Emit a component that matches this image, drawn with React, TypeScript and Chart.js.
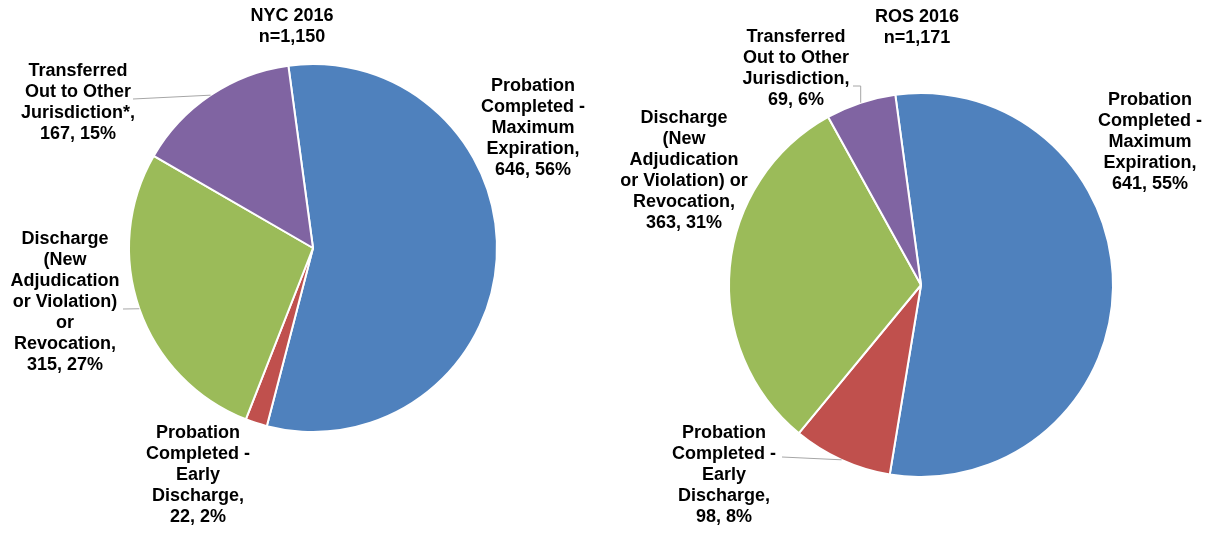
import React, { useEffect, useRef } from "react";
import { Chart, registerables } from "chart.js";

Chart.register(...registerables);

// ---------- DATA ----------
const nycCategories = [
  "Probation\nCompleted -\nMaximum\nExpiration",
  "Probation\nCompleted -\nEarly\nDischarge",
  "Discharge\n(New\nAdjudication\nor Violation)\nor\nRevocation",
  "Transferred\nOut to Other\nJurisdiction*",
];
const nycValues = [646, 22, 315, 167];

const rosCategories = [
  "Probation\nCompleted -\nMaximum\nExpiration",
  "Probation\nCompleted -\nEarly\nDischarge",
  "Discharge\n(New\nAdjudication\nor Violation) or\nRevocation",
  "Transferred\nOut to Other\nJurisdiction",
];
const rosValues = [641, 98, 363, 69];

const nycTitle = "NYC 2016";
const rosTitle = "ROS 2016";

const sliceColors = ["#4F81BD", "#C0504D", "#9BBB59", "#8064A2"];

// ---------- LAYOUT ----------
const W = 1214;
const H = 534;
const FONT = 'bold 18px "Liberation Sans", Arial, Helvetica, sans-serif';
const LINE_H = 21;

const nycLayout = {
  padding: { left: 128, top: 63, right: 716, bottom: 101 },
  title: { x: 292, y: 16 },
  labels: [
    { x: 533, y: 86 },
    { x: 198, y: 433 },
    { x: 65, y: 239, leader: { x: 123, y: 309, elbow: false } },
    { x: 78, y: 71, leader: { x: 133, y: 99, elbow: false } },
  ],
};

const rosLayout = {
  padding: { left: 728, top: 92, right: 100, bottom: 56 },
  title: { x: 917, y: 17 },
  labels: [
    { x: 1150, y: 100 },
    { x: 724, y: 433, leader: { x: 782, y: 457, elbow: false } },
    { x: 684, y: 118 },
    { x: 796, y: 37, leader: { x: 853, y: 86, elbow: true } },
  ],
};

const pieLabelPlugin = {
  id: "pieLabels",
  afterDraw(chart: any, _args: any, opts: any) {
    const ctx = chart.ctx as CanvasRenderingContext2D;
    const meta = chart.getDatasetMeta(0);
    const values: number[] = chart.data.datasets[0].data;
    const cats: string[] = chart.data.labels;
    const total = values.reduce((a, b) => a + b, 0);
    ctx.save();
    ctx.font = FONT;
    ctx.fillStyle = "#000000";
    ctx.textAlign = "center";
    ctx.textBaseline = "middle";
    const titleLines = [opts.titleText, "n=" + total.toLocaleString("en-US")];
    titleLines.forEach((t: string, i: number) =>
      ctx.fillText(t, opts.title.x, opts.title.y + i * LINE_H)
    );
    meta.data.forEach((arc: any, i: number) => {
      const lay = opts.labels[i];
      const lines = cats[i].split("\n");
      lines[lines.length - 1] += ",";
      const pct = Math.round((values[i] / total) * 100);
      lines.push(`${values[i]}, ${pct}%`);
      lines.forEach((t, j) => ctx.fillText(t, lay.x, lay.y + j * LINE_H));
      if (lay.leader) {
        const p = arc.getProps(["x", "y", "startAngle", "endAngle", "outerRadius"], true);
        const mid = (p.startAngle + p.endAngle) / 2;
        const ex = p.x + Math.cos(mid) * p.outerRadius;
        const ey = p.y + Math.sin(mid) * p.outerRadius;
        ctx.beginPath();
        ctx.strokeStyle = "#A6A6A6";
        ctx.lineWidth = 1;
        ctx.moveTo(lay.leader.x, lay.leader.y);
        if (lay.leader.elbow) ctx.lineTo(ex, lay.leader.y);
        ctx.lineTo(ex, ey);
        ctx.stroke();
      }
    });
    ctx.restore();
  },
};

function PieChart(props: { categories: string[]; values: number[]; layout: any; titleText: string }) {
  const ref = useRef<HTMLCanvasElement | null>(null);
  useEffect(() => {
    if (!ref.current) return;
    const chart = new Chart(ref.current, {
      type: "pie",
      data: {
        labels: props.categories,
        datasets: [
          {
            data: props.values,
            backgroundColor: sliceColors,
            borderColor: "#FFFFFF",
            borderWidth: 2,
            hoverOffset: 0,
          },
        ],
      },
      options: {
        responsive: false,
        animation: false,
        rotation: -7.7,
        layout: { padding: props.layout.padding },
        plugins: {
          legend: { display: false },
          tooltip: { enabled: false },
          title: { display: false },
          pieLabels: { ...props.layout, titleText: props.titleText },
        } as any,
        events: [],
      },
      plugins: [pieLabelPlugin],
    } as any);
    return () => chart.destroy();
  }, []);
  return (
    <canvas
      ref={ref}
      width={W}
      height={H}
      style={{ position: "absolute", left: 0, top: 0, width: W, height: H }}
    />
  );
}

export default function App() {
  return (
    <div style={{ position: "fixed", left: 0, top: 0, width: W, height: H, background: "#FFFFFF" }}>
      <PieChart categories={nycCategories} values={nycValues} layout={nycLayout} titleText={nycTitle} />
      <PieChart categories={rosCategories} values={rosValues} layout={rosLayout} titleText={rosTitle} />
    </div>
  );
}
